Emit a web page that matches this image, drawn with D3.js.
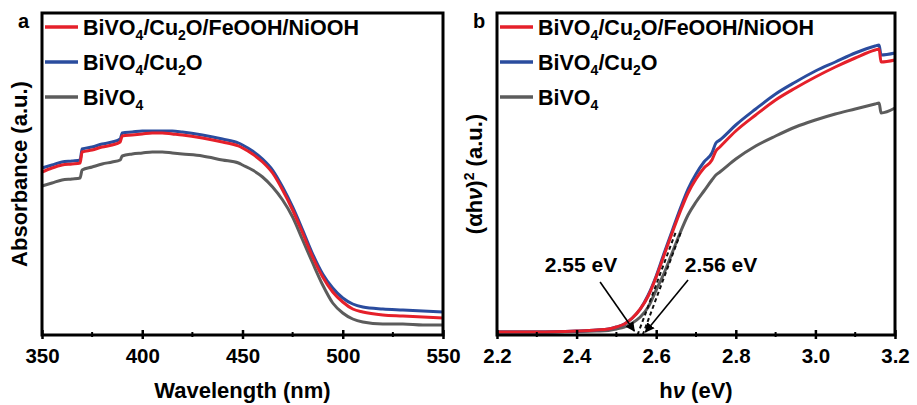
<!DOCTYPE html>
<html>
<head>
<meta charset="utf-8">
<script src="https://cdn.jsdelivr.net/npm/d3@7"></script>
<style>
  body { margin: 0; background: #fff; }
  svg { display: block; font-family: "Liberation Sans", Arial, sans-serif; font-weight: bold; }
</style>
</head>
<body>
<div id="chart"></div>
<script>
// panel a: UV-vis absorbance
const wavelength = [350, 355, 360, 365, 369, 370, 375, 380, 385, 389, 390, 395, 400, 405, 410, 415, 420, 430, 440, 448, 450, 455, 460, 465, 470, 475, 480, 485, 490, 495, 500, 505, 510, 520, 530, 540, 550];
const absFull = [1.63, 1.67, 1.70, 1.71, 1.72, 1.83, 1.85, 1.88, 1.90, 1.93, 1.99, 2.00, 2.01, 2.02, 2.02, 2.01, 2.00, 1.97, 1.93, 1.89, 1.87, 1.81, 1.73, 1.62, 1.45, 1.25, 1.02, 0.78, 0.58, 0.43, 0.33, 0.26, 0.23, 0.20, 0.19, 0.18, 0.17];
const absCu2O = [1.67, 1.70, 1.73, 1.74, 1.75, 1.86, 1.88, 1.91, 1.93, 1.96, 2.02, 2.03, 2.04, 2.04, 2.04, 2.04, 2.03, 2.00, 1.96, 1.92, 1.90, 1.84, 1.76, 1.65, 1.48, 1.28, 1.05, 0.81, 0.61, 0.47, 0.37, 0.31, 0.28, 0.26, 0.25, 0.24, 0.23];
const absBiVO4 = [1.49, 1.52, 1.55, 1.56, 1.57, 1.65, 1.68, 1.71, 1.73, 1.75, 1.79, 1.81, 1.82, 1.83, 1.83, 1.82, 1.81, 1.79, 1.75, 1.72, 1.70, 1.65, 1.58, 1.48, 1.35, 1.18, 0.95, 0.72, 0.50, 0.32, 0.22, 0.16, 0.13, 0.11, 0.11, 0.10, 0.10];

// panel b: Tauc plot
const energy = [2.20, 2.30, 2.40, 2.45, 2.48, 2.50, 2.52, 2.54, 2.56, 2.58, 2.60, 2.62, 2.64, 2.66, 2.68, 2.70, 2.72, 2.74, 2.75, 2.76, 2.80, 2.85, 2.90, 2.95, 3.00, 3.05, 3.10, 3.15, 3.16, 3.165, 3.20];
const taucFull = [0.03, 0.03, 0.04, 0.05, 0.06, 0.08, 0.11, 0.17, 0.26, 0.39, 0.58, 0.80, 1.02, 1.23, 1.42, 1.56, 1.67, 1.75, 1.84, 1.88, 2.04, 2.20, 2.35, 2.47, 2.58, 2.68, 2.77, 2.85, 2.86, 2.73, 2.75];
const taucCu2O = [0.03, 0.03, 0.04, 0.05, 0.06, 0.08, 0.11, 0.17, 0.26, 0.40, 0.59, 0.82, 1.04, 1.26, 1.46, 1.61, 1.73, 1.82, 1.92, 1.95, 2.10, 2.26, 2.41, 2.53, 2.64, 2.73, 2.82, 2.89, 2.90, 2.80, 2.82];
const taucBiVO4 = [0.03, 0.03, 0.035, 0.04, 0.045, 0.06, 0.08, 0.12, 0.18, 0.28, 0.45, 0.62, 0.82, 1.02, 1.20, 1.33, 1.44, 1.55, 1.60, 1.63, 1.76, 1.89, 1.99, 2.08, 2.15, 2.21, 2.26, 2.31, 2.32, 2.22, 2.27];

// tangent (extrapolation) lines
const tangentFull = [[2.553, 0], [2.651, 1.05]];
const tangentBiVO4 = [[2.566, 0], [2.664, 1.05]];

// annotations: label, label position, arrow start, arrow end
const gapLabels = ["2.55 eV", "2.56 eV"];
const gapLabelPos = [[2.411, 0.63], [2.763, 0.63]];
const gapArrowFrom = [[2.459, 0.53], [2.680, 0.55]];
const gapArrowTo = [[2.545, 0.04], [2.573, 0.03]];

const ticksA = [350, 400, 450, 500, 550];
const minorA = [375, 425, 475, 525];
const ticksB = [2.2, 2.4, 2.6, 2.8, 3.0, 3.2];
const minorB = [2.3, 2.5, 2.7, 2.9, 3.1];

// legend entries as [text, isSubscript] pieces
const legendNames = [
  [["BiVO", 0], ["4", 1], ["/Cu", 0], ["2", 1], ["O/FeOOH/NiOOH", 0]],
  [["BiVO", 0], ["4", 1], ["/Cu", 0], ["2", 1], ["O", 0]],
  [["BiVO", 0], ["4", 1]]
];
const colors = ["#e5202a", "#2a4c9e", "#5c5c5c"];

const W = 917, H = 405;
const plotTop = 13, plotBottom = 335;

const svg = d3.select('#chart').append('svg')
    .attr('width', W)
    .attr('height', H);

svg.append('rect').attr('width', W).attr('height', H).attr('fill', '#fff');

svg.append('defs').append('marker')
    .attr('id', 'arrowhead')
    .attr('viewBox', '0 0 10 10')
    .attr('refX', 9).attr('refY', 5)
    .attr('markerWidth', 6).attr('markerHeight', 6)
    .attr('orient', 'auto')
    .append('path').attr('d', 'M0,0 L10,5 L0,10 z').attr('fill', '#000');

function drawPanel(opts) {
    const x = d3.scaleLinear().domain(opts.xDomain).range([opts.left, opts.right]);
    const y = d3.scaleLinear().domain([0, 3.22]).range([plotBottom, plotTop]);
    const g = svg.append('g');

    const line = d3.line()
        .x(d => x(d[0]))
        .y(d => y(d[1]));
    const curve = d3.line()
        .x(d => x(d[0]))
        .y(d => y(d[1]))
        .curve(d3.curveMonotoneX);

    // draw gray, blue, red so red ends on top
    [2, 1, 0].forEach(i => {
        const pts = opts.xs.map((v, k) => [v, opts.series[i][k]]);
        g.append('path')
            .attr('d', curve(pts))
            .attr('fill', 'none')
            .attr('stroke', colors[i])
            .attr('stroke-width', 3)
            .attr('stroke-linejoin', 'round');
    });

    if (opts.extra) opts.extra(g, x, y, line);

    // bottom axis, ticks crossing the frame line
    const axis = g.append('g')
        .attr('transform', `translate(0,${plotBottom})`)
        .call(d3.axisBottom(x).tickValues(opts.ticks).tickSizeInner(-5).tickSizeOuter(0)
            .tickFormat(opts.format));
    axis.select('.domain').remove();
    axis.selectAll('.tick line').attr('y1', 4).attr('stroke', '#000').attr('stroke-width', 2.5);
    axis.selectAll('.tick text')
        .attr('y', 13)
        .attr('dy', '0.71em')
        .attr('fill', '#000')
        .style('font-size', '20.5px')
        .style('font-family', '"Liberation Sans", Arial, sans-serif')
        .style('font-weight', 'bold');

    g.selectAll('.minor')
        .data(opts.minor)
        .enter().append('line')
        .attr('x1', d => x(d)).attr('x2', d => x(d))
        .attr('y1', plotBottom - 3).attr('y2', plotBottom + 2)
        .attr('stroke', '#000').attr('stroke-width', 2);

    // frame
    g.append('rect')
        .attr('x', opts.left).attr('y', plotTop)
        .attr('width', opts.right - opts.left).attr('height', plotBottom - plotTop)
        .attr('fill', 'none').attr('stroke', '#000').attr('stroke-width', 3);

    // legend
    legendNames.forEach((parts, i) => {
        const ly = 27 + i * 35;
        g.append('line')
            .attr('x1', opts.left + 3).attr('x2', opts.left + 36)
            .attr('y1', ly).attr('y2', ly)
            .attr('stroke', colors[i]).attr('stroke-width', 3.5);
        const t = g.append('text')
            .attr('x', opts.left + 41).attr('y', ly + 7.5)
            .style('font-size', '21.5px');
        let shifted = false;
        parts.forEach(p => {
            const s = t.append('tspan').text(p[0]);
            if (p[1]) {
                s.attr('dy', 5).style('font-size', '14px');
                shifted = true;
            } else if (shifted) {
                s.attr('dy', -5);
                shifted = false;
            }
        });
    });

    // panel letter
    g.append('text')
        .attr('x', opts.left - 24).attr('y', 28)
        .style('font-size', '20px')
        .text(opts.letter);

    // x title
    const xt = g.append('text')
        .attr('x', (opts.left + opts.right) / 2).attr('y', 398)
        .attr('text-anchor', 'middle')
        .style('font-size', '22px');
    opts.xTitle(xt);

    // y title
    const yt = g.append('text')
        .attr('transform', `translate(${opts.left - 15},${(plotTop + plotBottom) / 2}) rotate(-90)`)
        .attr('text-anchor', 'middle')
        .style('font-size', '22px');
    opts.yTitle(yt);
}

drawPanel({
    left: 42, right: 443,
    xDomain: [350, 550],
    xs: wavelength,
    series: [absFull, absCu2O, absBiVO4],
    ticks: ticksA, minor: minorA,
    format: d3.format('d'),
    letter: 'a',
    xTitle: t => t.text('Wavelength (nm)'),
    yTitle: t => t.text('Absorbance (a.u.)')
});

drawPanel({
    left: 497, right: 895,
    xDomain: [2.2, 3.2],
    xs: energy,
    series: [taucFull, taucCu2O, taucBiVO4],
    ticks: ticksB, minor: minorB,
    format: d3.format('.1f'),
    letter: 'b',
    xTitle: t => {
        t.append('tspan').text('h');
        t.append('tspan').style('font-style', 'italic').text('ν');
        t.append('tspan').text(' (eV)');
    },
    yTitle: t => {
        t.append('tspan').text('(αh');
        t.append('tspan').style('font-style', 'italic').text('ν');
        t.append('tspan').text(')');
        t.append('tspan').attr('dy', -8).style('font-size', '14px').text('2');
        t.append('tspan').attr('dy', 8).text(' (a.u.)');
    },
    extra: (g, x, y, line) => {
        [tangentFull, tangentBiVO4].forEach(seg => {
            g.append('path')
                .attr('d', line(seg))
                .attr('fill', 'none')
                .attr('stroke', '#111')
                .attr('stroke-width', 2)
                .attr('stroke-dasharray', '4,3');
        });
        gapLabels.forEach((lab, i) => {
            g.append('line')
                .attr('x1', x(gapArrowFrom[i][0])).attr('y1', y(gapArrowFrom[i][1]))
                .attr('x2', x(gapArrowTo[i][0])).attr('y2', y(gapArrowTo[i][1]))
                .attr('stroke', '#000').attr('stroke-width', 1.6)
                .attr('marker-end', 'url(#arrowhead)');
            g.append('text')
                .attr('x', x(gapLabelPos[i][0])).attr('y', y(gapLabelPos[i][1]))
                .attr('text-anchor', 'middle')
                .style('font-size', '21px')
                .text(lab);
        });
    }
});
</script>
</body>
</html>
